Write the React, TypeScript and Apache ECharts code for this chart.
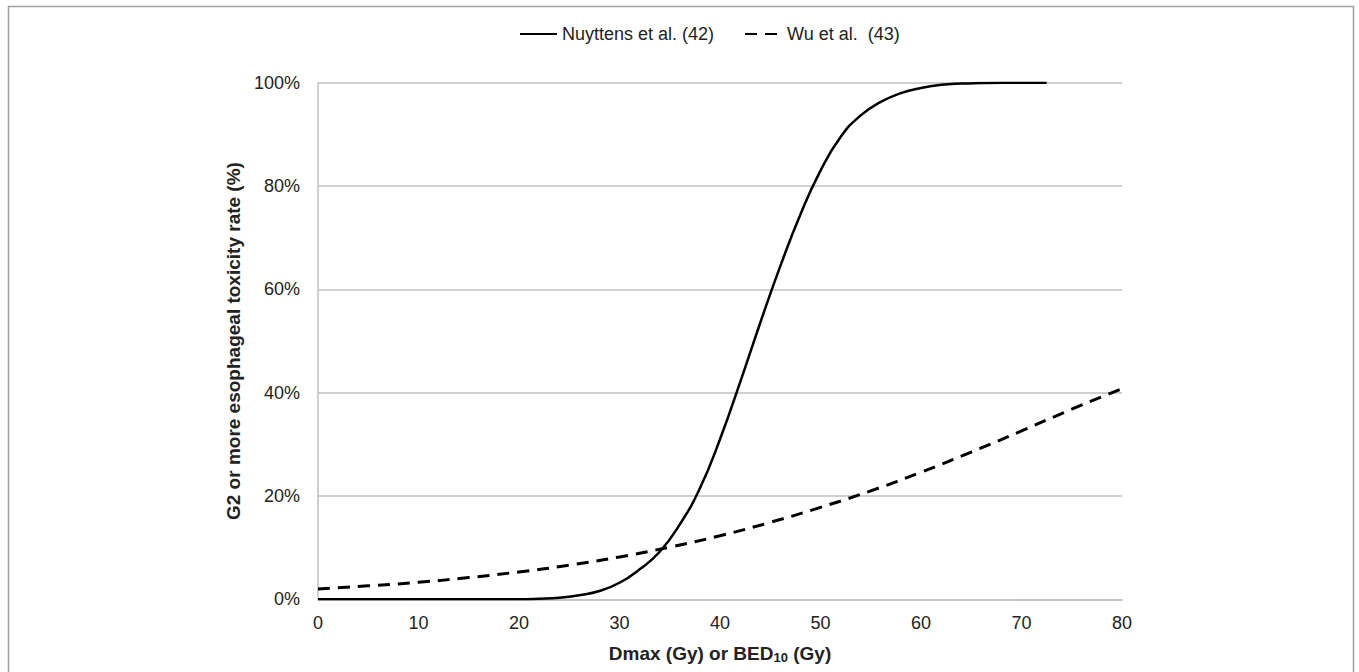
import React, { useEffect, useRef } from "react";
import * as echarts from "echarts";

const nuyttensX = [0, 4, 8, 12, 16, 20, 22, 24, 26, 28, 30, 32, 34, 36, 38, 40, 42, 44, 46, 48, 50, 52, 54, 56, 58, 60, 62, 64, 66, 68, 70, 72.5];
const nuyttensY = [0, 0, 0, 0, 0, 0, 0.1, 0.3, 0.8, 1.6, 3.2, 5.8, 9.2, 14.5, 21.5, 31, 42, 53.5, 64.5, 74.5, 83, 89.5, 93.7, 96.3, 98, 99, 99.6, 99.85, 99.95, 100, 100, 100];
const wuX = [0, 5, 10, 15, 20, 25, 30, 35, 40, 45, 50, 55, 60, 65, 70, 75, 80];
const wuY = [2, 2.6, 3.3, 4.2, 5.3, 6.6, 8.2, 10.1, 12.3, 14.9, 17.8, 21, 24.6, 28.5, 32.6, 36.8, 40.8];
const seriesNames = ["Nuyttens et al. (42)", "Wu et al.  (43)"];

const FONT = "'Liberation Sans', Arial, sans-serif";

export default function App() {
  const ref = useRef<HTMLDivElement>(null);
  useEffect(() => {
    if (!ref.current) return;
    const chart = echarts.init(ref.current, undefined, { renderer: "svg" });
    chart.setOption({
      animation: false,
      backgroundColor: "#ffffff",
      textStyle: { fontFamily: FONT },
      graphic: [
        {
          type: "rect",
          shape: { x: 8.5, y: 6.5, width: 1345, height: 720 },
          style: { fill: "none", stroke: "#a0a0a0", lineWidth: 1.5 },
          silent: true,
        },
      ],
      legend: {
        top: 20,
        left: 514,
        itemWidth: 37,
        itemHeight: 10,
        itemGap: 30,
        itemStyle: { opacity: 0 },
        textStyle: { fontSize: 18, color: "#222", fontFamily: FONT },
        data: seriesNames,
      },
      grid: { left: 318, right: 237, top: 82.8, bottom: 72.7, containLabel: false },
      xAxis: {
        type: "value",
        min: 0,
        max: 80,
        interval: 10,
        name: "Dmax (Gy) or BED{sub|10} (Gy)",
        nameLocation: "middle",
        nameGap: 43,
        nameTextStyle: {
          fontSize: 19,
          fontWeight: "bold",
          color: "#222",
          fontFamily: FONT,
          rich: {
            sub: { fontSize: 13, fontWeight: "bold", color: "#222", verticalAlign: "bottom", padding: [9, 0, 0, 0], fontFamily: FONT },
          },
        },
        axisLine: { show: true, lineStyle: { color: "#bfbfbf", width: 1.5 } },
        axisTick: { show: false },
        axisLabel: { fontSize: 18, color: "#222", margin: 15, fontFamily: FONT },
        splitLine: { show: false },
      },
      yAxis: {
        type: "value",
        min: 0,
        max: 100,
        interval: 20,
        name: "G2 or more esophageal toxicity rate (%)",
        nameLocation: "middle",
        nameGap: 66,
        nameRotate: 90,
        nameTextStyle: { fontSize: 19, fontWeight: "bold", color: "#222", fontFamily: FONT },
        axisLine: { show: true, lineStyle: { color: "#bfbfbf", width: 1.5 } },
        axisTick: { show: false },
        axisLabel: { fontSize: 18, color: "#222", margin: 18, formatter: "{value}%", fontFamily: FONT },
        splitLine: { show: true, lineStyle: { color: "#bfbfbf", width: 1.5 } },
      },
      series: [
        {
          name: seriesNames[0],
          type: "line",
          data: nuyttensX.map((x, i) => [x, nuyttensY[i]]),
          smooth: 0.5,
          symbol: "none",
          lineStyle: { color: "#000", width: 2.5, type: "solid" },
          itemStyle: { color: "#000" },
        },
        {
          name: seriesNames[1],
          type: "line",
          data: wuX.map((x, i) => [x, wuY[i]]),
          smooth: 0.5,
          symbol: "none",
          lineStyle: { color: "#000", width: 3, type: [12, 8] },
          itemStyle: { color: "#000" },
        },
      ],
    });
    return () => chart.dispose();
  }, []);
  return (
    <div
      ref={ref}
      style={{ position: "fixed", left: 0, top: 0, width: 1359, height: 672 }}
    />
  );
}
